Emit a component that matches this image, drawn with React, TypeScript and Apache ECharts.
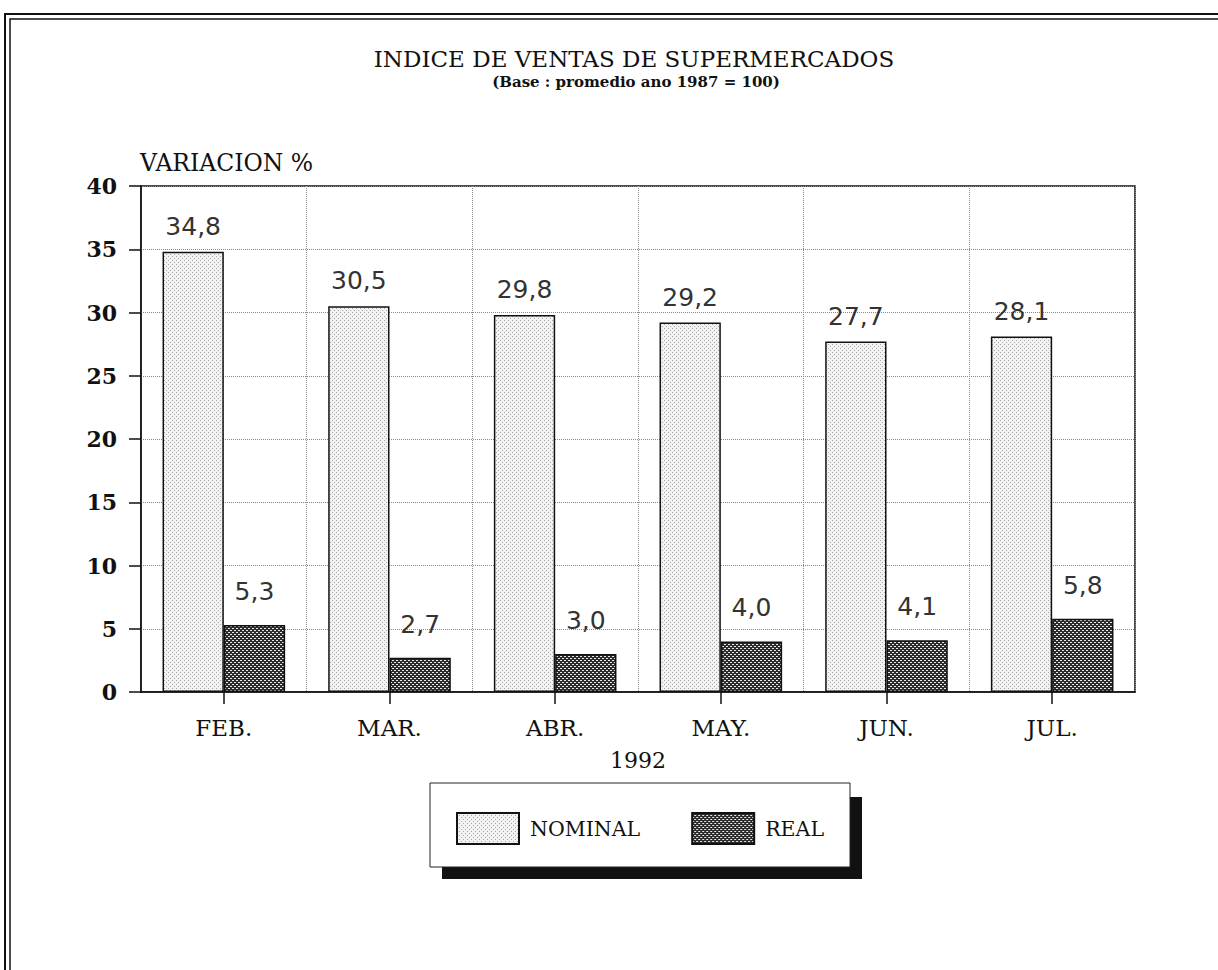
import React, { useEffect, useRef } from "react";
import * as echarts from "echarts";

const categories = ["FEB.", "MAR.", "ABR.", "MAY.", "JUN.", "JUL."];
const nominalValues = [34.8, 30.5, 29.8, 29.2, 27.7, 28.1];
const realValues = [5.3, 2.7, 3.0, 4.0, 4.1, 5.8];
const seriesNames = ["NOMINAL", "REAL"];
const titleText = "INDICE DE VENTAS DE SUPERMERCADOS";
const subtitleText = "(Base : promedio ano 1987 = 100)";
const yAxisTitle = "VARIACION %";
const xAxisTitle = "1992";

const SERIF = "'DejaVu Serif', 'Liberation Serif', serif";
const SANS = "'DejaVu Sans', 'Liberation Sans', sans-serif";

function makePattern(kind: "nominal" | "real"): any {
  const c = document.createElement("canvas");
  c.width = 4;
  c.height = 4;
  const ctx = c.getContext("2d")!;
  if (kind === "nominal") {
    ctx.fillStyle = "#f2f2f2";
    ctx.fillRect(0, 0, 4, 4);
    ctx.fillStyle = "#a8a8a8";
    ctx.fillRect(0, 0, 1, 1);
    ctx.fillRect(2, 2, 1, 1);
  } else {
    ctx.fillStyle = "#2c2c2c";
    ctx.fillRect(0, 0, 4, 4);
    ctx.fillStyle = "#e8e8e8";
    ctx.fillRect(0, 0, 2, 1);
    ctx.fillRect(2, 2, 2, 1);
  }
  return { image: c, repeat: "repeat" };
}

const fmt = (v: number) => v.toFixed(1).replace(".", ",");

export default function App() {
  const ref = useRef<HTMLDivElement>(null);
  useEffect(() => {
    if (!ref.current) return;
    const chart = echarts.init(ref.current, undefined, { renderer: "svg" });
    const nominalFill = makePattern("nominal");
    const realFill = makePattern("real");
    const labelBase = {
      show: true,
      position: "top",
      fontFamily: SANS,
      fontSize: 25,
      color: "#333",
      formatter: (p: any) => fmt(p.value),
    };
    chart.setOption({
      animation: false,
      backgroundColor: "#fff",
      title: [
        {
          text: titleText,
          left: 634,
          textAlign: "center",
          top: 50,
          padding: 0,
          textStyle: { fontFamily: SERIF, fontSize: 23, lineHeight: 18, fontWeight: "normal", color: "#111" },
        },
        {
          text: subtitleText,
          left: 636,
          textAlign: "center",
          top: 75,
          padding: 0,
          textStyle: { fontFamily: SERIF, fontSize: 15, lineHeight: 14, fontWeight: "bold", color: "#111" },
        },
      ],
      legend: {
        left: 430,
        top: 783,
        orient: "horizontal",
        icon: "rect",
        padding: [29, 26, 22, 26],
        itemWidth: 62,
        itemHeight: 31,
        itemGap: 51,
        backgroundColor: "#fff",
        borderColor: "#222",
        borderWidth: 1,
        z: 10,
        textStyle: { fontFamily: SERIF, fontSize: 20.5, color: "#111", padding: [0, 0, 0, 6] },
        data: seriesNames,
      },
      graphic: [
        { type: "rect", z: 1, shape: { x: 442, y: 797, width: 420, height: 82 }, style: { fill: "#111" } },
        { type: "polyline", z: 0, silent: true, shape: { points: [[5, 975], [5, 14], [1225, 14]] }, style: { fill: "none", stroke: "#111", lineWidth: 2 } },
        { type: "polyline", z: 0, silent: true, shape: { points: [[10, 975], [10, 19], [1225, 19]] }, style: { fill: "none", stroke: "#111", lineWidth: 1.5 } },
        { type: "text", z: 5, style: { x: 140, y: 163, text: yAxisTitle, fontFamily: SERIF, fontSize: 23.5, fill: "#111", textAlign: "left", textVerticalAlign: "middle" } },
      ],
      grid: {
        left: 141,
        right: 83,
        top: 186,
        bottom: 278,
        show: true,
        borderColor: "#111",
        borderWidth: 1.5,
      },
      xAxis: {
        type: "category",
        data: categories,
        name: xAxisTitle,
        nameLocation: "middle",
        nameGap: 57,
        nameTextStyle: { fontFamily: SERIF, fontSize: 22, color: "#111" },
        axisLine: { show: true, lineStyle: { color: "#111", width: 1.5 } },
        axisTick: { show: true, alignWithLabel: true, length: 12, lineStyle: { color: "#111", width: 1.5 } },
        axisLabel: { margin: 24, fontFamily: SERIF, fontSize: 23, color: "#111" },
        splitLine: { show: true, interval: 0, lineStyle: { color: "#888", type: "dotted", width: 1 } },
      },
      yAxis: {
        type: "value",
        min: 0,
        max: 40,
        interval: 5,
        axisLine: { show: true, lineStyle: { color: "#111", width: 1.5 } },
        axisTick: { show: true, length: 12, lineStyle: { color: "#111", width: 1.5 } },
        axisLabel: { margin: 24, fontFamily: SERIF, fontSize: 22, fontWeight: "bold", color: "#111" },
        splitLine: { show: true, lineStyle: { color: "#888", type: "dotted", width: 1 } },
      },
      series: [
        {
          name: seriesNames[0],
          type: "bar",
          data: nominalValues,
          barGap: "0%",
          barCategoryGap: "26%",
          itemStyle: { color: nominalFill, borderColor: "#111", borderWidth: 1.5 },
          label: { ...labelBase, distance: 13 },
        },
        {
          name: seriesNames[1],
          type: "bar",
          data: realValues,
          itemStyle: { color: realFill, borderColor: "#111", borderWidth: 1.5 },
          label: { ...labelBase, distance: 21 },
        },
      ],
    });
    return () => chart.dispose();
  }, []);
  return <div ref={ref} style={{ position: "fixed", left: 0, top: 0, width: 1218, height: 970 }} />;
}
